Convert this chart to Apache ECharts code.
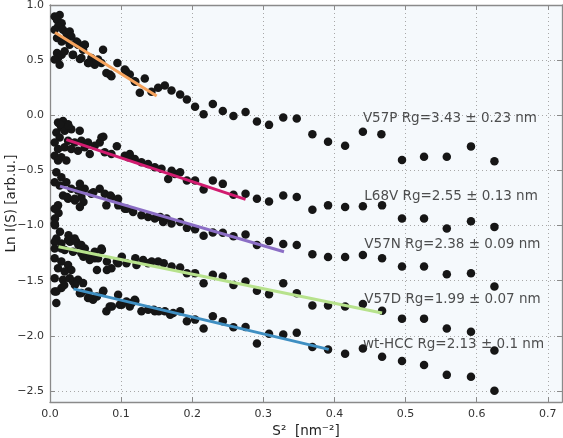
<!DOCTYPE html>
<html><head><meta charset="utf-8">
<script src="https://cdn.jsdelivr.net/npm/echarts@6/dist/echarts.min.js"></script>
<style>html,body{margin:0;padding:0;background:#fff}#c{width:563px;height:438px}</style>
</head><body><div id="c"></div>
<script>
// ---- data (S^2 in nm^-2, Ln I(S)) ----
const v57pX = [0.0066,0.0136,0.0099,0.0164,0.0113,0.0066,0.0183,0.0230,0.0277,0.0300,0.0099,0.0164,0.0230,0.0277,0.0371,0.0394,0.0488,0.0465,0.0099,0.0164,0.0113,0.0136,0.0066,0.0207,0.0324,0.0441,0.0535,0.0582,0.0629,0.0746,0.0676,0.0723,0.0793,0.0840,0.0864,0.0948,0.1052,0.1122,0.1192,0.1333,0.1263,0.1427,0.1521,0.1615,0.1709,0.039,0.049,0.032,0.042,0.054,0.066,0.107,0.120,
  0.183,0.1925,0.204,0.216,0.229,0.243,0.258,0.275,0.291,0.308,0.328,0.347,0.369,0.391,0.415,0.440,0.466,0.495,0.526,0.558,0.592,0.625];
const v57pY = [0.895,0.910,0.865,0.835,0.805,0.775,0.775,0.745,0.760,0.715,0.700,0.670,0.685,0.640,0.670,0.640,0.640,0.595,0.565,0.550,0.520,0.459,0.505,0.580,0.550,0.520,0.474,0.520,0.459,0.595,0.505,0.474,0.384,0.369,0.354,0.474,0.414,0.369,0.309,0.333,0.204,0.213,0.249,0.270,0.225,0.657,0.640,0.547,0.510,0.474,0.490,0.396,0.305,
  0.189,0.144,0.078,0.009,0.102,0.039,-0.006,0.030,-0.057,-0.087,-0.021,-0.030,-0.171,-0.240,-0.277,-0.150,-0.171,-0.405,-0.376,-0.376,-0.282,-0.417];

const l68vX = [0.0113,0.0183,0.0254,0.0160,0.0089,0.0207,0.0300,0.0418,0.0136,0.0066,0.0254,0.0347,0.0441,0.0535,0.0629,0.0723,0.0699,0.0113,0.0207,0.0300,0.0394,0.0488,0.0559,0.0066,0.0160,0.0230,0.0113,0.0770,0.0864,0.0940,0.1052,0.1122,0.1192,0.1286,0.1380,0.1474,0.1568,0.1662,0.1756,0.014,0.026,0.075,0.110,0.171,
  0.183,0.1925,0.204,0.216,0.229,0.243,0.258,0.275,0.291,0.308,0.328,0.347,0.369,0.391,0.415,0.440,0.467,0.495,0.526,0.558,0.592,0.625];
const l68vY = [-0.066,-0.051,-0.081,-0.111,-0.156,-0.141,-0.126,-0.141,-0.201,-0.246,-0.231,-0.246,-0.231,-0.246,-0.276,-0.201,-0.246,-0.306,-0.291,-0.306,-0.321,-0.291,-0.351,-0.366,-0.381,-0.411,-0.411,-0.336,-0.351,-0.280,-0.366,-0.351,-0.396,-0.426,-0.441,-0.471,-0.486,-0.577,-0.532,-0.081,-0.096,-0.195,-0.381,-0.502,
  -0.516,-0.592,-0.592,-0.673,-0.592,-0.622,-0.721,-0.712,-0.757,-0.781,-0.727,-0.742,-0.856,-0.817,-0.832,-0.826,-0.817,-0.937,-0.937,-1.027,-0.961,-1.012];

const v57nX = [0.0089,0.0160,0.0066,0.0136,0.0230,0.0300,0.0394,0.0488,0.0582,0.0699,0.0770,0.0864,0.0958,0.0793,0.1052,0.1169,0.1286,0.1380,0.1474,0.1591,0.1709,0.0113,0.0066,0.0183,0.0254,0.0347,0.0441,0.042,0.061,0.024,0.035,0.047,0.042,0.096,0.108,0.164,0.007,0.012,0.085,0.155,
  0.183,0.1925,0.204,0.216,0.229,0.243,0.258,0.275,0.291,0.308,0.328,0.347,0.369,0.391,0.415,0.440,0.467,0.495,0.526,0.558,0.592,0.625];
const v57nY = [-0.517,-0.561,-0.607,-0.637,-0.607,-0.667,-0.682,-0.667,-0.712,-0.667,-0.712,-0.742,-0.757,-0.817,-0.847,-0.877,-0.907,-0.922,-0.937,-0.967,-0.982,-0.817,-0.847,-0.727,-0.757,-0.757,-0.742,-0.622,-0.697,-0.742,-0.772,-0.787,-0.832,-0.817,-0.847,-0.937,-0.937,-0.887,-0.727,-0.922,
  -0.967,-1.021,-1.033,-1.093,-1.063,-1.066,-1.096,-1.081,-1.177,-1.141,-1.168,-1.177,-1.261,-1.285,-1.285,-1.267,-1.297,-1.372,-1.372,-1.441,-1.432,-1.552];

const v57dX = [0.007,0.014,0.026,0.009,0.028,0.040,0.049,0.073,0.047,0.063,0.080,0.094,0.101,0.120,0.131,0.143,0.160,0.171,0.080,0.066,0.0066,0.0160,0.0254,0.0371,0.0441,0.0066,0.0207,0.0324,0.0441,0.0535,0.0629,0.0723,0.0559,0.0676,0.0864,0.0958,0.1075,0.1216,0.1380,0.1521,0.0066,0.0160,0.0254,0.0113,0.0207,0.0300,0.0066,0.0160,0.0347,0.0723,
  0.183,0.1925,0.204,0.216,0.229,0.243,0.258,0.275,0.291,0.308,0.328,0.347,0.369,0.391,0.415,0.440,0.467,0.495,0.526,0.558,0.592,0.625];
const v57dY = [-0.997,-1.057,-1.087,-1.117,-1.147,-1.177,-1.207,-1.222,-1.282,-1.297,-1.327,-1.327,-1.282,-1.297,-1.312,-1.327,-1.342,-1.372,-1.402,-1.402,-1.147,-1.162,-1.132,-1.147,-1.177,-1.207,-1.222,-1.237,-1.252,-1.267,-1.237,-1.222,-1.312,-1.297,-1.387,-1.342,-1.342,-1.357,-1.342,-1.327,-1.297,-1.327,-1.357,-1.387,-1.417,-1.402,-0.982,-1.207,-1.117,-1.207,
  -1.381,-1.432,-1.432,-1.523,-1.447,-1.462,-1.538,-1.508,-1.592,-1.622,-1.523,-1.613,-1.724,-1.724,-1.733,-1.712,-1.772,-1.844,-1.844,-1.934,-1.964,-2.132];

const wthccX = [0.0066,0.0183,0.0277,0.0324,0.0394,0.0465,0.0066,0.0160,0.0089,0.0441,0.0535,0.0606,0.0746,0.0793,0.0840,0.0958,0.0981,0.1075,0.1192,0.1122,0.1286,0.1380,0.1474,0.1615,0.1732,0.035,0.042,0.054,0.056,0.066,0.075,0.087,0.101,0.115,0.120,0.146,0.153,0.169,0.009,0.020,
  0.183,0.1925,0.204,0.216,0.229,0.243,0.258,0.275,0.291,0.308,0.328,0.347,0.369,0.391,0.415,0.440,0.467,0.495,0.526,0.558,0.592,0.625];
const wthccY = [-1.477,-1.492,-1.477,-1.507,-1.492,-1.522,-1.597,-1.567,-1.703,-1.612,-1.658,-1.673,-1.597,-1.778,-1.733,-1.627,-1.718,-1.688,-1.673,-1.733,-1.778,-1.763,-1.778,-1.778,-1.793,-1.538,-1.613,-1.598,-1.658,-1.643,-1.592,-1.733,-1.718,-1.703,-1.682,-1.763,-1.778,-1.808,-1.598,-1.540,
  -1.778,-1.868,-1.853,-1.934,-1.823,-1.868,-1.922,-1.919,-2.069,-1.982,-1.988,-1.973,-2.102,-2.123,-2.162,-2.114,-2.189,-2.228,-2.264,-2.354,-2.372,-2.498];

// Guinier fit lines (start/end)
const fitNames  = ['V57P','L68V','V57N','V57D','wt-HCC'];
const fitX = [[0.007,0.150],[0.023,0.275],[0.014,0.329],[0.012,0.467],[0.033,0.392]];
const fitY = [[0.750,0.174],[-0.221,-0.763],[-0.642,-1.237],[-1.192,-1.793],[-1.574,-2.123]];
const fitColors = ['#f7a35c','#d11b6f','#8b6ec5','#b7e28c','#3f8fc2'];

// Annotations
const noteText = ['V57P Rg=3.43 \u00b1 0.23 nm','L68V Rg=2.55 \u00b1 0.13 nm','V57N Rg=2.38 \u00b1 0.09 nm','V57D Rg=1.99 \u00b1 0.07 nm','wt-HCC Rg=2.13 \u00b1 0.1 nm'];
const noteX = [0.440,0.442,0.442,0.442,0.440];
const noteY = [-0.025,-0.739,-1.170,-1.669,-2.077];

const xTitle = 'S\u00b2  [nm\u207b\u00b2]';
const yTitle = 'Ln I(S) [arb.u.]';

// ---- chart ----
const FONT = 'DejaVu Sans';
const pairs = (xs, ys) => xs.map((x, i) => [x, ys[i]]);
const fmt = v => { const s = Math.abs(v).toFixed(1); return (v < -1e-9 ? '\u2212' : '') + s; };
const spine = { show: true, onZero: false, lineStyle: { color: '#8a8a8a', width: 1.3 } };
const tick = { show: true, inside: true, length: 5, lineStyle: { color: '#8a8a8a', width: 1 } };
const grid = { show: true, type: [1, 3], color: '#a8a8a8', width: 1 };

const scatterData = [[v57pX,v57pY],[l68vX,l68vY],[v57nX,v57nY],[v57dX,v57dY],[wthccX,wthccY]];
const series = [];
scatterData.forEach((d, i) => series.push({
  name: fitNames[i] + ' data', type: 'scatter', data: pairs(d[0], d[1]), symbolSize: 8.5,
  itemStyle: { color: '#161616', opacity: 1 }, z: 2, silent: true
}));
fitX.forEach((xs, i) => series.push({
  name: fitNames[i] + ' fit', type: 'line', data: pairs(xs, fitY[i]), showSymbol: false, symbol: 'none',
  lineStyle: { color: fitColors[i], width: 3 }, z: 3, silent: true
}));
series.push({
  type: 'scatter', symbolSize: 0, z: 4, silent: true,
  data: noteX.map((x, i) => [x, noteY[i], noteText[i]]),
  label: { show: true, position: 'right', distance: 0, formatter: p => p.data[2],
           color: '#222', fontSize: 13.5, fontFamily: FONT }
});

const chart = echarts.init(document.getElementById('c'), null, { renderer: 'canvas' });
chart.setOption({
  backgroundColor: '#ffffff',
  animation: false,
  grid: { left: 50, right: 1, top: 5, bottom: 36, show: true, backgroundColor: '#f5f9fc', borderWidth: 0,
          containLabel: false, outerBoundsMode: 'none' },
  xAxis: [
    { type: 'value', min: 0, max: 0.72, splitNumber: 7, position: 'bottom',
      axisLine: spine, axisTick: tick, splitLine: { show: true, lineStyle: grid },
      axisLabel: { showMaxLabel: false, formatter: fmt, color: '#333', fontSize: 11, fontFamily: FONT, margin: 7 },
      name: xTitle, nameLocation: 'middle', nameGap: 22, nameMoveOverlap: false,
      nameTextStyle: { color: '#222', fontSize: 13.5, fontFamily: FONT } },
    { type: 'value', min: 0, max: 0.72, splitNumber: 7, position: 'top',
      axisLine: spine, axisTick: tick, splitLine: { show: false }, axisLabel: { show: false } }
  ],
  yAxis: [
    { type: 'value', min: -2.6, max: 1.0, splitNumber: 7, position: 'left',
      axisLine: spine, axisTick: tick, splitLine: { show: true, lineStyle: grid },
      axisLabel: { showMinLabel: false, formatter: fmt, color: '#333', fontSize: 11, fontFamily: FONT, margin: 6 },
      name: yTitle, nameLocation: 'middle', nameGap: 32, nameMoveOverlap: false,
      nameTextStyle: { color: '#222', fontSize: 13.5, fontFamily: FONT } },
    { type: 'value', min: -2.6, max: 1.0, splitNumber: 7, position: 'right',
      axisLine: spine, axisTick: tick, splitLine: { show: false }, axisLabel: { show: false } }
  ],
  series: series
});
</script></body></html>
